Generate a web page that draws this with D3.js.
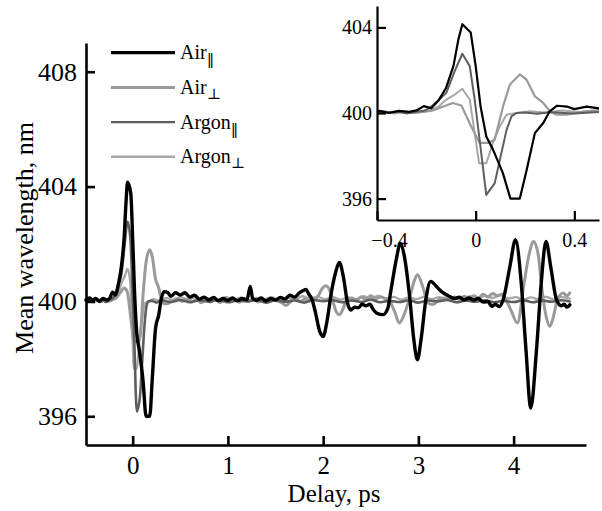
<!DOCTYPE html>
<html>
<head>
<meta charset="utf-8">
<script src="https://cdn.jsdelivr.net/npm/d3@7"></script>
<style>
  body { margin: 0; background: #fff; }
  svg { display: block; }
  text { font-family: "Liberation Serif", "Times New Roman", serif; fill: #000; }
</style>
</head>
<body>
<svg id="chart" width="602" height="511"></svg>
<script>
// Mean wavelength (nm) versus pump–probe delay (ps), pairs of [delay, wavelength]
const airPar = [
  [-0.49,400.05],[-0.45,400.12],[-0.42,400.02],[-0.39,400.1],[-0.35,400.0],[-0.31,400.1],[-0.27,400.05],
  [-0.24,400.12],[-0.21,400.32],[-0.18,400.22],[-0.15,400.6],[-0.12,401.17],[-0.09,402.2],[-0.07,403.44],
  [-0.054,404.15],[-0.02,403.76],[0.0,402.2],[0.02,400.3],[0.043,398.9],[0.07,398.3],[0.11,397.2],
  [0.141,396.0],[0.179,396.0],[0.206,397.3],[0.24,399.06],[0.274,399.53],[0.30,400.08],[0.33,400.34],
  [0.37,400.3],[0.40,400.18],[0.45,400.3],[0.50,400.22],[0.55,400.3],[0.60,400.15],[0.65,400.22],
  [0.70,400.08],[0.75,400.15],[0.80,400.05],[0.85,400.14],[0.90,400.02],[0.95,400.1],[1.00,400.04],
  [1.05,400.12],[1.10,400.02],[1.15,400.1],[1.20,400.06],[1.235,400.52],[1.26,400.1],[1.30,400.04],
  [1.35,400.12],[1.40,400.02],[1.45,400.1],[1.50,400.05],[1.55,400.14],[1.60,400.08],[1.65,400.22],
  [1.70,400.15],[1.75,400.3],[1.79,400.38],[1.82,400.42],[1.85,400.25],[1.88,400.1],[1.92,399.6],
  [1.96,399.0],[2.0,398.78],[2.04,399.3],[2.085,400.29],[2.13,401.0],[2.17,401.36],[2.21,400.9],
  [2.26,399.89],[2.29,399.7],[2.33,399.8],[2.37,399.78],[2.41,399.9],[2.45,399.85],[2.49,399.9],
  [2.53,399.7],[2.56,399.6],[2.63,399.54],[2.68,399.77],[2.71,400.35],[2.77,401.5],[2.81,402.03],
  [2.85,401.62],[2.91,400.1],[2.95,398.73],[2.99,397.97],[3.03,398.73],[3.08,400.1],[3.13,400.7],
  [3.19,400.52],[3.24,400.35],[3.33,400.17],[3.38,400.1],[3.43,400.15],[3.48,400.05],[3.53,400.12],
  [3.58,400.05],[3.63,400.1],[3.68,399.98],[3.73,400.0],[3.77,399.83],[3.81,399.9],[3.85,399.82],
  [3.89,400.06],[3.96,401.2],[4.02,402.15],[4.08,400.64],[4.13,398.3],[4.18,396.29],[4.24,398.3],
  [4.29,400.64],[4.34,402.09],[4.39,401.2],[4.45,400.06],[4.50,399.85],[4.53,399.9],[4.56,399.8],[4.59,399.88]
];

const airPerp = [
  [-0.49,400.0],[-0.45,400.08],[-0.41,399.98],[-0.37,400.06],[-0.33,400.0],[-0.29,400.05],[-0.25,400.02],
  [-0.21,400.08],[-0.18,400.1],[-0.147,400.23],[-0.12,400.35],[-0.092,400.47],[-0.058,400.35],
  [-0.018,399.37],[0.016,398.6],[0.05,398.6],[0.077,398.75],[0.111,400.31],[0.139,401.33],[0.179,401.8],
  [0.206,401.56],[0.24,400.78],[0.274,400.47],[0.301,400.08],[0.328,399.92],[0.369,399.92],[0.42,400.03],
  [0.47,400.1],[0.52,400.0],[0.57,400.08],[0.62,399.98],[0.67,400.06],[0.72,399.95],[0.77,400.05],
  [0.82,399.98],[0.87,400.08],[0.92,399.96],[0.97,400.06],[1.02,400.0],[1.07,400.08],[1.12,399.97],
  [1.17,400.05],[1.22,400.0],[1.27,400.08],[1.32,399.98],[1.37,400.06],[1.42,400.0],[1.47,400.1],
  [1.52,400.02],[1.57,399.95],[1.61,399.86],[1.66,400.0],[1.71,400.1],[1.76,400.0],[1.81,400.08],
  [1.86,400.02],[1.9,400.05],[1.95,400.2],[1.99,400.45],[2.03,400.55],[2.08,400.3],[2.13,399.7],
  [2.17,399.54],[2.21,399.75],[2.25,400.07],[2.3,400.12],[2.35,400.05],[2.4,400.15],[2.45,400.08],
  [2.5,400.2],[2.55,400.1],[2.6,400.15],[2.65,400.1],[2.7,400.0],[2.75,399.65],[2.80,399.25],
  [2.85,399.54],[2.91,400.15],[2.96,400.75],[2.99,400.93],[3.05,400.47],[3.1,399.95],[3.15,399.89],
  [3.22,400.07],[3.28,400.12],[3.33,400.05],[3.38,400.15],[3.43,400.08],[3.48,400.18],[3.53,400.1],
  [3.58,400.2],[3.63,400.12],[3.68,400.25],[3.73,400.15],[3.78,400.28],[3.83,400.2],[3.88,400.25],
  [3.92,400.05],[3.97,399.71],[4.04,399.25],[4.11,400.64],[4.16,401.6],[4.21,402.09],[4.26,401.6],
  [4.29,400.64],[4.34,399.5],[4.38,399.13],[4.42,399.5],[4.46,400.06],[4.52,400.29],[4.56,400.2],[4.59,400.3]
];

const argonPar = [
  [-0.49,400.08],[-0.44,400.0],[-0.40,400.1],[-0.36,400.02],[-0.32,400.08],[-0.28,399.98],[-0.24,400.06],
  [-0.21,400.1],[-0.187,400.23],[-0.147,400.63],[-0.119,400.94],[-0.085,401.96],[-0.054,402.77],
  [-0.024,402.19],[-0.004,400.63],[0.016,398.75],[0.043,396.17],[0.077,396.71],[0.098,397.8],
  [0.125,399.2],[0.145,399.84],[0.166,400.0],[0.2,400.02],[0.25,399.96],[0.3,400.04],[0.4,399.98],
  [0.5,400.05],[0.6,399.97],[0.7,400.04],[0.8,399.99],[0.9,400.06],[1.0,399.97],[1.1,400.03],
  [1.2,400.0],[1.3,400.05],[1.4,399.96],[1.5,400.04],[1.6,399.99],[1.7,400.03],[1.8,399.96],
  [1.9,400.05],[2.0,400.01],[2.1,400.04],[2.2,399.97],[2.3,400.03],[2.4,399.98],[2.5,400.06],
  [2.6,399.97],[2.7,400.02],[2.8,399.98],[2.9,400.04],[3.0,399.96],[3.1,400.03],[3.2,400.0],
  [3.3,400.05],[3.4,399.97],[3.5,400.03],[3.6,399.99],[3.7,400.04],[3.8,399.97],[3.9,400.02],
  [4.0,399.98],[4.1,400.04],[4.2,399.97],[4.3,400.03],[4.4,399.99],[4.5,400.04],[4.59,400.0]
];

const argonPerp = [
  [-0.49,400.02],[-0.45,400.1],[-0.41,400.0],[-0.37,400.08],[-0.33,399.98],[-0.29,400.06],[-0.25,400.0],
  [-0.21,400.05],[-0.187,400.1],[-0.15,400.3],[-0.119,400.63],[-0.085,400.86],[-0.054,401.13],
  [-0.024,400.63],[-0.004,399.06],[0.014,397.65],[0.043,397.65],[0.07,398.6],[0.098,399.37],
  [0.125,399.92],[0.166,400.0],[0.22,400.08],[0.28,400.02],[0.35,400.12],[0.42,400.05],[0.5,400.15],
  [0.58,400.06],[0.66,400.14],[0.74,400.04],[0.82,400.12],[0.9,400.05],[0.98,400.16],[1.06,400.06],
  [1.14,400.13],[1.22,400.04],[1.3,400.12],[1.38,400.06],[1.46,400.15],[1.54,400.05],[1.62,400.14],
  [1.7,400.08],[1.78,400.18],[1.86,400.1],[1.94,400.16],[2.02,400.08],[2.1,400.15],[2.18,400.06],
  [2.26,400.14],[2.34,400.08],[2.42,400.18],[2.5,400.1],[2.58,400.2],[2.66,400.1],[2.74,400.16],
  [2.82,400.06],[2.9,400.14],[2.98,400.08],[3.06,400.16],[3.14,400.08],[3.22,400.15],[3.3,400.06],
  [3.38,400.14],[3.46,400.08],[3.54,400.18],[3.62,400.1],[3.7,400.2],[3.78,400.12],[3.86,400.22],
  [3.94,400.1],[4.02,400.15],[4.1,400.06],[4.18,400.14],[4.26,400.08],[4.34,400.16],[4.42,400.07],
  [4.5,400.15],[4.59,400.1]
];

// Legend names and polarization subscripts
const seriesNames = ["Air", "Air", "Argon", "Argon"];
const seriesSubs = ["\u2016", "\u22A5", "\u2016", "\u22A5"];

// Tick values
const mainXTicks = [0, 1, 2, 3, 4];
const mainYTicks = [396, 400, 404, 408];
const insetXTicks = [-0.4, 0, 0.4];
const insetYTicks = [396, 400, 404];

const series = [
  { data: airPar,    color: "#000000", wMain: 3.4, wInset: 2.2 },
  { data: airPerp,   color: "#9a9a9a", wMain: 3.0, wInset: 2.2 },
  { data: argonPar,  color: "#5e5e5e", wMain: 2.6, wInset: 2.0 },
  { data: argonPerp, color: "#a8a8a8", wMain: 2.4, wInset: 2.0 }
];
const drawOrder = [3, 1, 2, 0];

const svg = d3.select("#chart");

// ---------- main panel ----------
const x = d3.scaleLinear().domain([-0.49, 4.76]).range([86, 586]);
const y = d3.scaleLinear().domain([395, 409]).range([445, 43]);

const mainLine = d3.line()
  .x(d => x(d[0])).y(d => y(d[1]))
  .curve(d3.curveMonotoneX);

const mainG = svg.append("g");
drawOrder.forEach(i => {
  const s = series[i];
  mainG.append("path")
    .datum(s.data)
    .attr("d", mainLine)
    .attr("fill", "none")
    .attr("stroke", s.color)
    .attr("stroke-width", s.wMain)
    .attr("stroke-linejoin", "round")
    .attr("stroke-linecap", "round");
});

function styleAxis(g, fontSize, width) {
  g.select(".domain").attr("stroke", "#000").attr("stroke-width", width);
  g.selectAll(".tick line").attr("stroke", "#000").attr("stroke-width", width);
  g.selectAll(".tick text")
    .attr("font-family", "'Liberation Serif', 'Times New Roman', serif")
    .attr("font-size", fontSize)
    .attr("fill", "#000");
}

const xAxisG = svg.append("g")
  .attr("transform", `translate(0,${y.range()[0]})`)
  .call(d3.axisBottom(x).tickValues(mainXTicks).tickFormat(d3.format("d"))
    .tickSizeInner(-9).tickSizeOuter(0).tickPadding(11));
styleAxis(xAxisG, 25, 2.6);

const yAxisG = svg.append("g")
  .attr("transform", `translate(${x.range()[0]},0)`)
  .call(d3.axisLeft(y).tickValues(mainYTicks).tickFormat(d3.format("d"))
    .tickSizeInner(-9).tickSizeOuter(0).tickPadding(9));
styleAxis(yAxisG, 26, 2.6);

svg.append("text")
  .attr("x", 334)
  .attr("y", 502)
  .attr("text-anchor", "middle")
  .attr("font-size", 25)
  .text("Delay, ps");

svg.append("text")
  .attr("transform", "translate(33,238) rotate(-90)")
  .attr("text-anchor", "middle")
  .attr("font-size", 26)
  .text("Mean wavelength, nm");

// ---------- legend ----------
const legend = svg.append("g");
series.forEach((s, i) => {
  const ly = 52.7 + i * 34.7;
  legend.append("line")
    .attr("x1", 111).attr("x2", 175)
    .attr("y1", ly).attr("y2", ly)
    .attr("stroke", s.color)
    .attr("stroke-width", i === 0 ? 3.2 : (i === 1 ? 3 : 2.4));
  const t = legend.append("text")
    .attr("x", 180).attr("y", ly + 6.6)
    .attr("font-size", 20);
  t.append("tspan").text(seriesNames[i]);
  t.append("tspan")
    .attr("font-size", 15)
    .attr("dy", 5)
    .attr("font-family", "'DejaVu Serif', serif")
    .text(seriesSubs[i]);
});

// ---------- inset ----------
const xi = d3.scaleLinear().domain([-0.4, 0.5]).range([377, 599]);
const yi = d3.scaleLinear().domain([395, 405]).range([220, 6]);

svg.append("defs").append("clipPath").attr("id", "insetClip")
  .append("rect")
  .attr("x", xi.range()[0]).attr("y", yi.range()[1])
  .attr("width", xi.range()[1] - xi.range()[0])
  .attr("height", yi.range()[0] - yi.range()[1]);

const insetLine = d3.line()
  .x(d => xi(d[0])).y(d => yi(d[1]));

const insetG = svg.append("g").attr("clip-path", "url(#insetClip)");
drawOrder.forEach(i => {
  const s = series[i];
  insetG.append("path")
    .datum(s.data.filter(d => d[0] >= -0.45 && d[0] <= 0.55))
    .attr("d", insetLine)
    .attr("fill", "none")
    .attr("stroke", s.color)
    .attr("stroke-width", s.wInset)
    .attr("stroke-linejoin", "round");
});

const xiAxisG = svg.append("g")
  .attr("transform", `translate(0,${yi.range()[0]})`)
  .call(d3.axisBottom(xi).tickValues(insetXTicks)
    .tickFormat(d => d === 0 ? "0" : d3.format(".1f")(d))
    .tickSizeInner(-9).tickSizeOuter(0).tickPadding(13));
styleAxis(xiAxisG, 20, 2.2);
xiAxisG.selectAll(".tick text").filter(d => d < 0).attr("dx", 12);

const yiAxisG = svg.append("g")
  .attr("transform", `translate(${xi.range()[0]},0)`)
  .call(d3.axisLeft(yi).tickValues(insetYTicks).tickFormat(d3.format("d"))
    .tickSizeInner(-9).tickSizeOuter(0).tickPadding(5));
styleAxis(yiAxisG, 20, 2.2);
</script>
</body>
</html>
